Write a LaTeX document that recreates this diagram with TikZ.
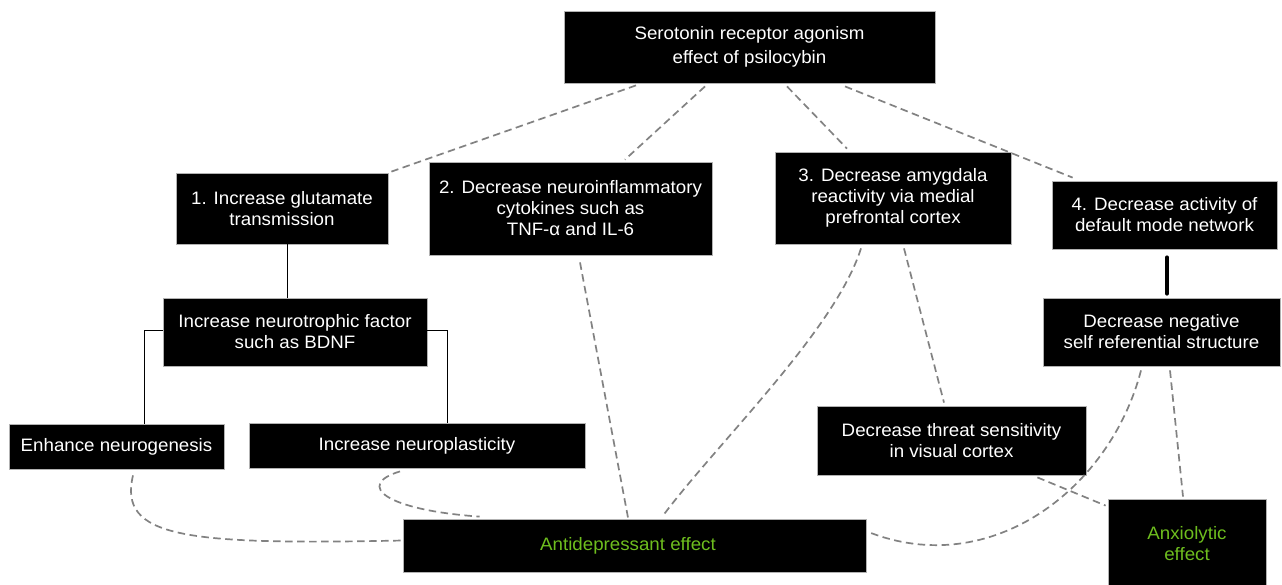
\documentclass[tikz,border=0pt]{standalone}
\usepackage{fontspec}
\setmainfont{Liberation Sans}[FakeStretch=1.04]
\usetikzlibrary{calc}
\definecolor{grn}{RGB}{110,190,30}
\definecolor{dashgray}{RGB}{130,130,130}
\begin{document}
\begin{tikzpicture}[x=1pt,y=-1pt,
  box/.style={rectangle,fill=black,draw=gray!60,line width=0.8pt,text=white,align=center,inner sep=0pt,
    font=\fontsize{18}{21}\selectfont},
  dl/.style={draw=dashgray,line width=1.7pt,dash pattern=on 7.5pt off 4.5pt},
  sl/.style={draw=black,line width=0.9pt}]
\useasboundingbox (0,0) rectangle (1282,584);
\fill[white] (0,0) rectangle (1282,584);
% boxes
\node[box,minimum width=371pt,minimum height=72pt,font=\fontsize{18}{24}\selectfont] (top) at (749.5,47) {Serotonin receptor agonism\\effect of psilocybin};
\node[box,minimum width=212pt,minimum height=71pt] (b1) at (282,208.5) {1. Increase glutamate\\transmission};
\node[box,minimum width=283pt,minimum height=93pt] (b2) at (570.5,208.5) {2. Decrease neuroinflammatory\\cytokines such as\\TNF-α and IL-6};
\node[box,minimum width=236pt,minimum height=92pt] (b3) at (893,198) {3. Decrease amygdala\\reactivity via medial\\prefrontal cortex};
\node[box,minimum width=225pt,minimum height=68pt] (b4) at (1164.5,215) {4. Decrease activity of\\default mode network};
\node[box,minimum width=264pt,minimum height=68pt] (nt) at (295,332) {Increase neurotrophic factor\\such as BDNF};
\node[box,minimum width=215pt,minimum height=45pt] (enh) at (116.5,446.5) {Enhance neurogenesis};
\node[box,minimum width=336pt,minimum height=45pt] (np) at (417,445.5) {Increase neuroplasticity};
\node[box,minimum width=237pt,minimum height=68pt] (neg) at (1161.5,332) {Decrease negative\\self referential structure};
\node[box,minimum width=269pt,minimum height=69pt] (thr) at (951.5,440.5) {Decrease threat sensitivity\\in visual cortex};
\node[box,minimum width=463pt,minimum height=53pt,text=grn] (ad) at (634.5,545.5) {Antidepressant effect\hspace*{13pt}};
\node[box,minimum width=158pt,minimum height=90pt,text=grn] (ax) at (1187,544) {Anxiolytic\\effect};
% top connectors
\draw[dl] ($(top.south)+(-113.5,2)$) -- ($(b1.north east)+(3,-1)$);
\draw[dl] ($(top.south)+(-44.5,3)$) -- ($(b2.north)+(54.5,-2)$);
\draw[dl] ($(top.south)+(37.5,3)$) -- ($(b3.north)+(-46,-3)$);
\draw[dl] ($(top.south)+(95.5,3)$) -- ($(b4.north west)+(21,-3)$);
% solid tree
\draw[sl] ([xshift=5pt]b1.south) -- ([xshift=5pt]b1.south |- nt.north);
\draw[sl] ([yshift=2pt]nt.west) -| ([xshift=27.5pt]enh.north);
\draw[sl] ([yshift=2pt]nt.east) -| ([xshift=30pt]np.north);
\draw[line width=4pt,line cap=round] ($(b4.south)+(2.5,8)$) -- ($(neg.north)+(5.5,-4)$);
% dashed to effects
\draw[dl] ($(enh.south)+(16.5,6)$) .. controls (118,538) and (185,545) .. ($(ad.west)+(0,-5)$);
\draw[dl] ($(np.south)+(-17,3)$) .. controls (355,485) and (385,510) .. ($(ad.north west)+(77,-2)$);
\draw[dl] ($(b2.south)+(9.5,7)$) -- ($(ad.north)+(-6.5,-1)$);
\draw[dl] ($(b3.south)+(-32,4)$) .. controls (835,330) and (720,440) .. ($(ad.north)+(28.5,-3)$);
\draw[dl] ($(b3.south)+(11,4)$) -- ($(thr.north)+(-7.5,-3)$);
\draw[dl] ($(thr.south east)+(-49,2)$) -- ($(ax.north west)+(-2,7)$);
\draw[dl] ($(neg.south)+(8.5,4)$) -- ($(ax.north)+(-4,-2)$);
\draw[dl] ($(neg.south)+(-20.5,4)$) .. controls (1110,490) and (990,580) .. ($(ad.east)+(2,-13.5)$);
\end{tikzpicture}
\end{document}
